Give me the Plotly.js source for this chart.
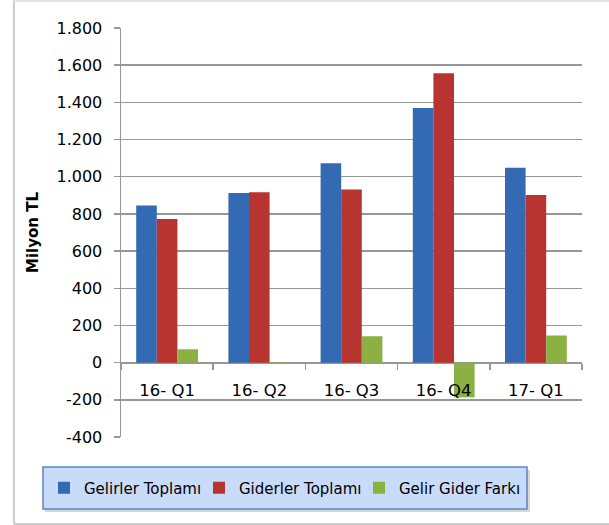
<!DOCTYPE html>
<html>
<head>
<meta charset="utf-8">
<script src="https://cdn.plot.ly/plotly-3.0.1.min.js"></script>
<style>
html,body{margin:0;padding:0;background:#fff;}
#chart{width:609px;height:525px;}
</style>
</head>
<body>
<div id="chart"></div>
<script>
var categories = ['16- Q1', '16- Q2', '16- Q3', '16- Q4', '17- Q1'];
var gelirlerToplami = [845, 912, 1073, 1370, 1048];
var giderlerToplami = [773, 917, 931, 1557, 902];
var gelirGiderFarki = [72, -5, 142, -187, 146];
var yTickVals = [-400, -200, 0, 200, 400, 600, 800, 1000, 1200, 1400, 1600, 1800];
var yTickText = ['-400', '-200', '0', '200', '400', '600', '800', '1.000', '1.200', '1.400', '1.600', '1.800'];
var seriesNames = ['Gelirler Toplamı', 'Giderler Toplamı', 'Gelir Gider Farkı'];

var FONT = 'DejaVu Sans, sans-serif';
var W = 609, H = 525, L = 121, R = 27, T = 28, B = 88;
var pw = W - L - R, ph = H - T - B;
function px(x) { return (x - L) / pw; }
function py(y) { return (H - B - y) / ph; }
var yMin = -400, yMax = 1800;

var traces = [
  {type: 'bar', name: seriesNames[0], x: categories, y: gelirlerToplami,
   legendwidth: 110, marker: {color: '#3469b3'}},
  {type: 'bar', name: seriesNames[1], x: categories, y: giderlerToplami,
   legendwidth: 115, marker: {color: '#b83431'}},
  {type: 'bar', name: seriesNames[2], x: categories, y: gelirGiderFarki,
   marker: {color: '#8cb143'}}
];

var gridC = '#979797';
var layout = {
  width: W, height: H,
  margin: {l: L, r: R, t: T, b: B, pad: 0},
  paper_bgcolor: '#ffffff',
  plot_bgcolor: '#ffffff',
  barmode: 'group',
  bargap: 0.33,
  bargroupgap: 0,
  showlegend: true,
  font: {family: FONT, size: 16, color: '#000'},
  xaxis: {
    type: 'category',
    anchor: 'free',
    position: (0 - yMin) / (yMax - yMin),
    showline: true, linecolor: gridC, linewidth: 1.5,
    ticks: 'outside', tickson: 'boundaries', ticklen: 6, tickcolor: gridC, tickwidth: 1.5,
    ticklabelstandoff: 12,
    showgrid: false,
    tickfont: {family: FONT, size: 16.5, color: '#000'}
  },
  yaxis: {
    range: [yMin, yMax],
    tickvals: yTickVals, ticktext: yTickText,
    showline: true, linecolor: gridC, linewidth: 1.5,
    ticks: 'outside', ticklen: 6, tickcolor: gridC, tickwidth: 1.5,
    ticklabelstandoff: 8,
    showgrid: true, gridcolor: gridC, gridwidth: 1.5,
    zeroline: false,
    tickfont: {family: FONT, size: 16, color: '#000'},
    title: {text: '<b>Milyon TL</b>', font: {family: FONT, size: 15, color: '#000'}, standoff: 14}
  },
  legend: {
    orientation: 'h',
    x: px(44), xanchor: 'left',
    y: py(488), yanchor: 'middle',
    bgcolor: 'rgba(0,0,0,0)',
    borderwidth: 0,
    font: {family: FONT, size: 15, color: '#000'},
    itemclick: false
  },
  shapes: [
    {type: 'line', xref: 'paper', yref: 'paper', x0: px(14), x1: px(14), y0: py(0), y1: py(524),
     line: {color: '#bdbdbd', width: 1.5}, layer: 'below'},
    {type: 'line', xref: 'paper', yref: 'paper', x0: px(14), x1: px(609), y0: py(524), y1: py(524),
     line: {color: '#bdbdbd', width: 1.5}, layer: 'below'},
    {type: 'line', xref: 'paper', yref: 'paper', x0: px(14), x1: px(609), y0: py(1), y1: py(1),
     line: {color: '#e2e2e2', width: 2}, layer: 'below'},
    {type: 'rect', xref: 'paper', yref: 'paper', x0: px(45), x1: px(530), y0: py(512), y1: py(470),
     fillcolor: '#d6d6d6', line: {width: 0}, layer: 'below'},
    {type: 'rect', xref: 'paper', yref: 'paper', x0: px(43), x1: px(527), y0: py(509), y1: py(467),
     fillcolor: '#c8dbf8', line: {color: '#5b86c5', width: 1.5}, layer: 'below'}
  ]
};

Plotly.newPlot('chart', traces, layout, {displayModeBar: false, staticPlot: true});
</script>
</body>
</html>
